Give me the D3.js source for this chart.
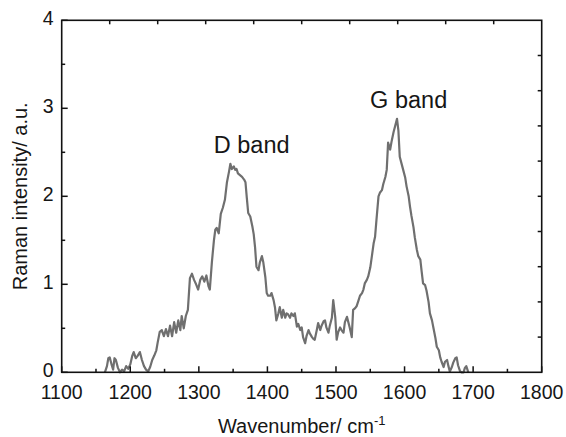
<!DOCTYPE html>
<html><head><meta charset="utf-8">
<script src="https://cdn.jsdelivr.net/npm/d3@7"></script>
<style>
body{margin:0;background:#fff;}
text{font-family:"Liberation Sans",Arial,sans-serif;fill:#161616;}
</style></head>
<body><svg id="c" width="566" height="437"></svg>
<script>
// Data
const wavenumber = [1163,1166,1168,1170,1173,1175,1177,1179,1182,1185,1188,1191,1194,1197,1200,1203,1205,1208,1211,1214,1217,1220,1223,1226,1229,1232,1235,1238,1240,1243,1246,1249,1252,1255,1258,1261,1264,1267,1270,1273,1275,1278,1281,1284,1287,1290,1293,1296,1299,1302,1305,1308,1311,1314,1316,1319,1322,1324,1326,1329,1332,1335,1338,1341,1344,1346,1348,1351,1353,1355,1357,1360,1363,1366,1368,1370,1372,1375,1378,1380,1382,1384,1387,1389,1392,1394,1397,1399,1401,1404,1406,1409,1411,1413,1416,1418,1421,1423,1426,1428,1430,1433,1435,1438,1440,1443,1445,1448,1450,1452,1455,1457,1460,1462,1465,1467,1469,1472,1474,1477,1479,1482,1484,1486,1489,1491,1494,1496,1499,1501,1503,1506,1508,1511,1513,1516,1518,1520,1523,1525,1528,1530,1533,1535,1538,1540,1542,1545,1547,1550,1552,1555,1557,1559,1562,1564,1567,1569,1572,1574,1576,1579,1581,1584,1586,1589,1591,1593,1596,1598,1601,1603,1606,1608,1610,1613,1615,1618,1620,1623,1625,1627,1630,1632,1635,1637,1640,1642,1645,1647,1650,1652,1654,1657,1659,1662,1664,1666,1669,1671,1674,1676,1678,1681,1683,1686,1688,1690,1693];
const intensity = [0.00,0.07,0.16,0.17,0.08,0.03,0.16,0.14,0.05,0.00,0.03,0.01,0.07,0.04,0.09,0.19,0.23,0.16,0.19,0.23,0.14,0.07,0.03,0.01,0.06,0.14,0.19,0.25,0.34,0.46,0.48,0.41,0.49,0.41,0.53,0.41,0.57,0.45,0.59,0.48,0.64,0.50,0.64,0.71,1.07,1.12,1.05,1.00,0.94,1.05,1.09,1.03,1.10,0.98,0.94,1.25,1.50,1.62,1.64,1.58,1.80,1.87,1.96,2.16,2.28,2.37,2.31,2.34,2.30,2.31,2.26,2.24,2.22,2.19,2.16,1.98,1.81,1.77,1.66,1.57,1.42,1.20,1.16,1.25,1.32,1.25,1.08,0.90,0.87,0.87,0.90,0.82,0.74,0.59,0.67,0.74,0.62,0.71,0.62,0.67,0.66,0.62,0.67,0.64,0.67,0.52,0.55,0.48,0.51,0.40,0.33,0.41,0.48,0.44,0.40,0.38,0.37,0.48,0.56,0.48,0.53,0.58,0.59,0.51,0.45,0.53,0.62,0.82,0.62,0.37,0.45,0.51,0.48,0.45,0.57,0.63,0.57,0.51,0.40,0.71,0.73,0.75,0.82,0.87,0.90,0.94,1.01,1.05,1.09,1.19,1.30,1.47,1.54,1.73,2.00,2.04,2.07,2.14,2.22,2.30,2.61,2.53,2.62,2.73,2.79,2.88,2.75,2.45,2.36,2.30,2.21,2.11,2.00,1.88,1.78,1.65,1.53,1.39,1.32,1.28,1.14,1.01,0.99,0.93,0.80,0.67,0.59,0.51,0.39,0.29,0.25,0.17,0.12,0.06,0.12,0.14,0.07,0.01,0.06,0.11,0.16,0.17,0.08,0.01,0.00,0.00,0.05,0.07,0.00];
const xTicks = [1100,1200,1300,1400,1500,1600,1700,1800];
const xMinorTicks = [1150,1250,1350,1450,1550,1650,1750];
const yTicks = [0,1,2,3,4];
const yMinorTicks = [0.5,1.5,2.5,3.5];
const topTicks = [1170,1240,1310,1380,1450,1520,1590,1660,1730];
const rightTicks = [0.4,0.8,1.2,1.6,2.0,2.4,2.8,3.2,3.6];
const annotationLabels = ["D band", "G band"];
const annotationX = [1377, 1606];
const annotationY = [2.49, 3.0];

const svg = d3.select("#c");
const L = 61.7, R = 541.7, T = 20.3, B = 372.3;
const x = d3.scaleLinear().domain([1100,1800]).range([L,R]);
const y = d3.scaleLinear().domain([0,4]).range([B,T]);

// curve
const line = d3.line().x((d,i)=>x(wavenumber[i])).y(d=>y(d));
svg.append("path").datum(intensity).attr("d",line)
  .attr("fill","none").attr("stroke","#6f6f6f").attr("stroke-width",2.2).attr("stroke-linejoin","round");

// frame
svg.append("rect").attr("x",L).attr("y",T).attr("width",R-L).attr("height",B-T)
  .attr("fill","none").attr("stroke","#111").attr("stroke-width",1.6);

const tk = svg.append("g").attr("stroke","#111").attr("stroke-width",1.5);
xTicks.forEach(v=>tk.append("line").attr("x1",x(v)).attr("x2",x(v)).attr("y1",B).attr("y2",B-6));
xMinorTicks.forEach(v=>tk.append("line").attr("x1",x(v)).attr("x2",x(v)).attr("y1",B).attr("y2",B-3.5));
topTicks.forEach(v=>tk.append("line").attr("x1",x(v)).attr("x2",x(v)).attr("y1",T).attr("y2",T+4));
yTicks.forEach(v=>tk.append("line").attr("x1",L).attr("x2",L+6).attr("y1",y(v)).attr("y2",y(v)));
yMinorTicks.forEach(v=>tk.append("line").attr("x1",L).attr("x2",L+3.5).attr("y1",y(v)).attr("y2",y(v)));
rightTicks.forEach(v=>tk.append("line").attr("x1",R).attr("x2",R-4).attr("y1",y(v)).attr("y2",y(v)));

// tick labels
svg.append("g").selectAll("text").data(xTicks).join("text")
  .attr("x",d=>x(d)).attr("y",399).attr("text-anchor","middle")
  .attr("font-size",19.5).text(d=>d);
svg.append("g").selectAll("text").data(yTicks).join("text")
  .attr("x",L-8).attr("y",d=>y(d)+5).attr("text-anchor","end")
  .attr("font-size",19.5).text(d=>d);

// axis titles
const xt = svg.append("text").attr("x",(L+R)/2).attr("y",433).attr("text-anchor","middle").attr("font-size",20);
xt.append("tspan").text("Wavenumber/ cm");
xt.append("tspan").attr("dy",-8).attr("font-size",13).text("-1");
svg.append("text").attr("transform",`translate(27,${(T+B)/2}) rotate(-90)`)
  .attr("text-anchor","middle").attr("font-size",20).text("Raman intensity/ a.u.");

// annotations
svg.append("g").selectAll("text").data(annotationLabels).join("text")
  .attr("x",(d,i)=>x(annotationX[i])).attr("y",(d,i)=>y(annotationY[i])).attr("text-anchor","middle")
  .attr("font-size",23.5).text(d=>d);
</script></body></html>
